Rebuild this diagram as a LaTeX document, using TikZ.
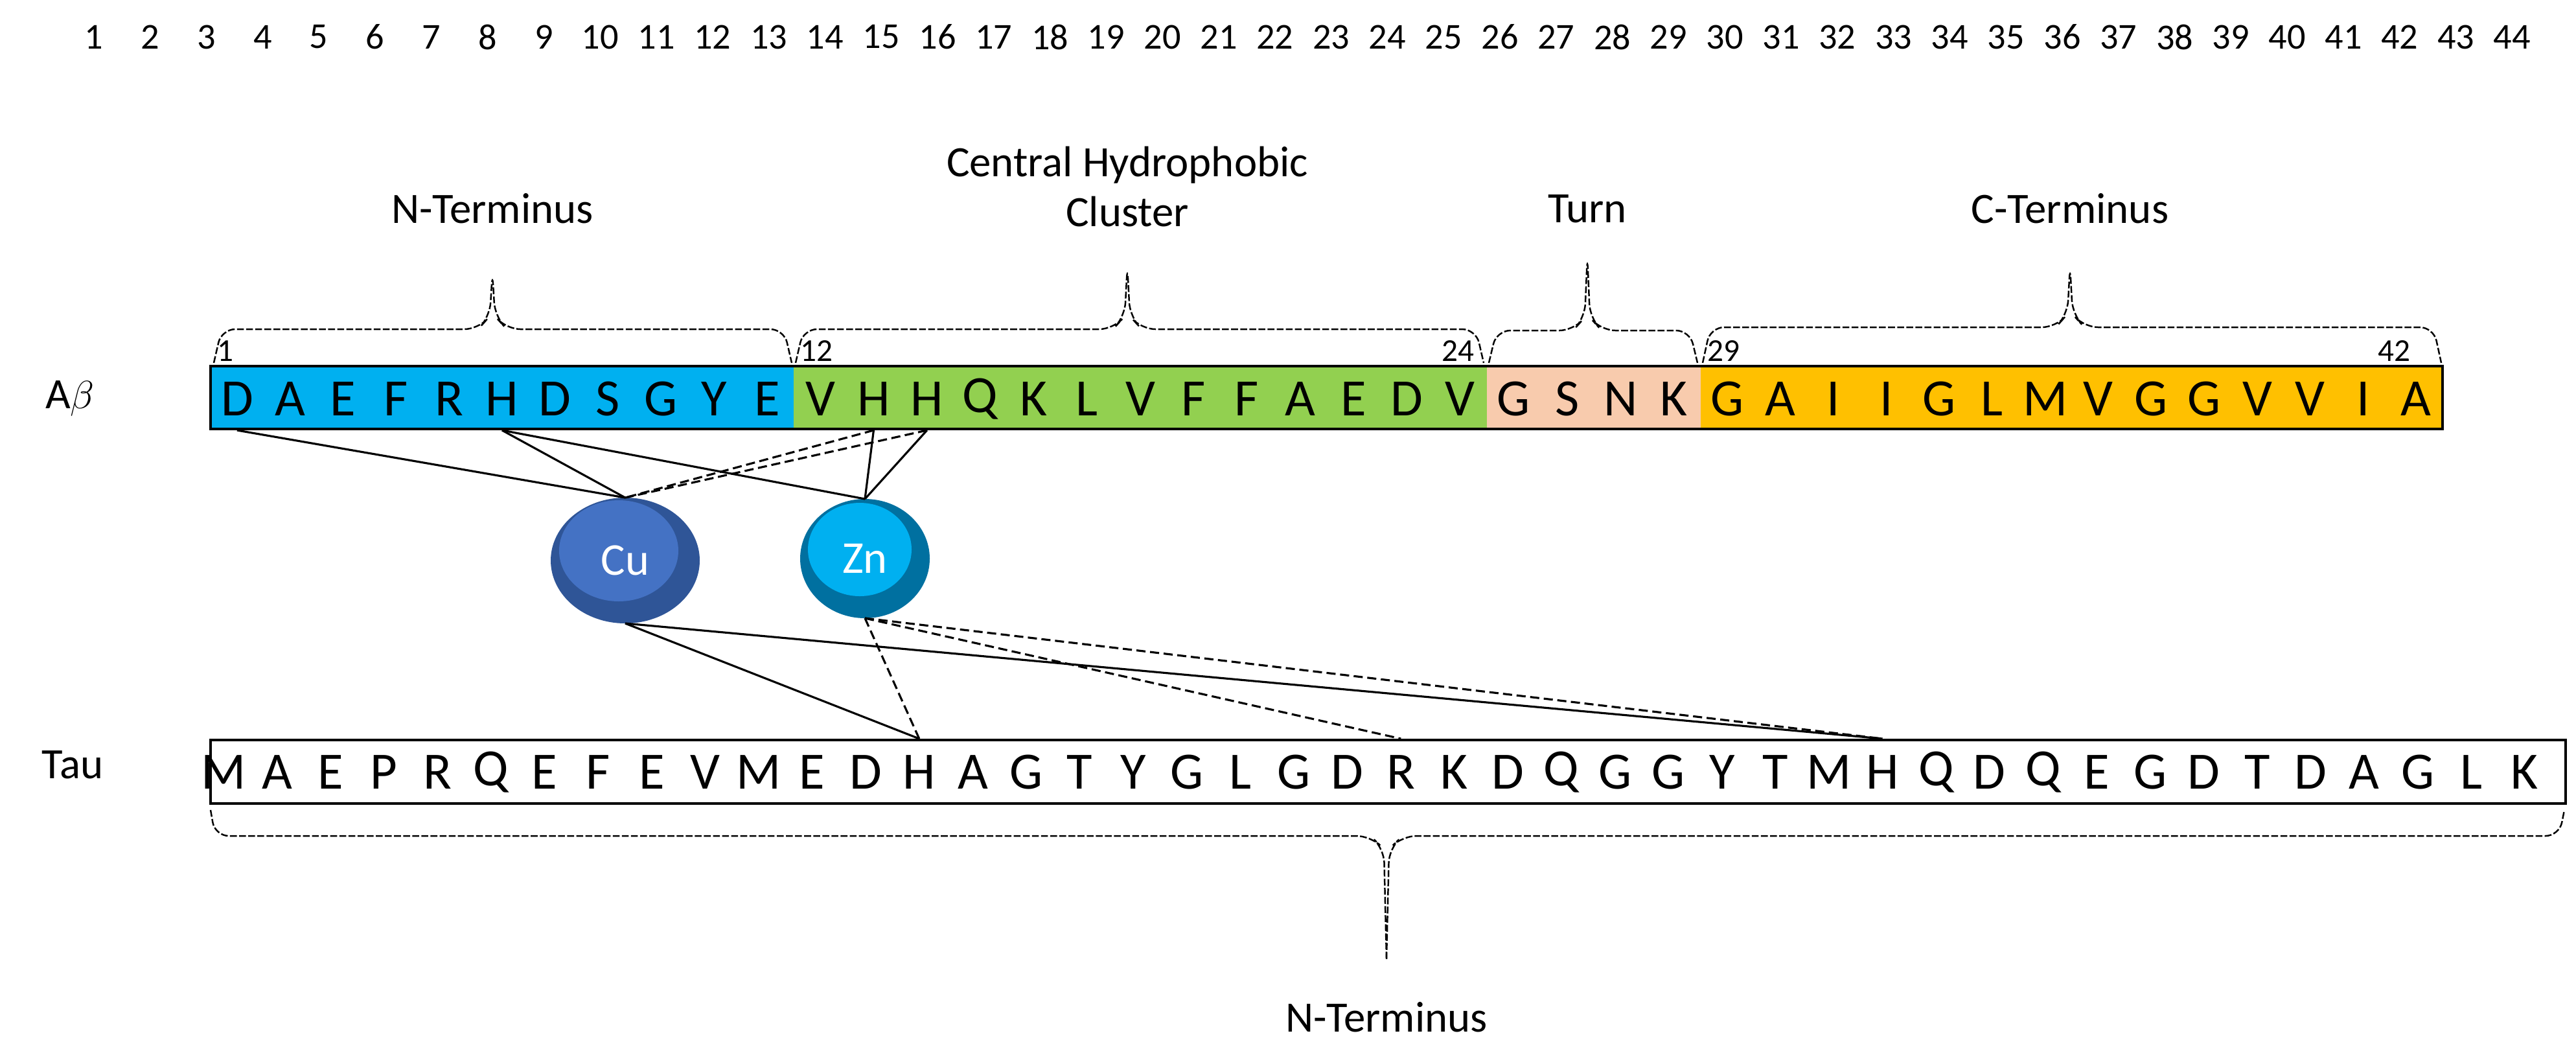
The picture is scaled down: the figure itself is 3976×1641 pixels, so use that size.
\documentclass[tikz,border=0pt]{standalone}
\usepackage{fontspec}
\setmainfont{Carlito}
\begin{document}
\begin{tikzpicture}[x=0.01cm,y=-0.01cm,
  seq/.style={font=\fontsize{23}{23}\selectfont,inner sep=0pt,anchor=center},
  num/.style={font=\fontsize{16}{16}\selectfont,inner sep=0pt},
  small/.style={font=\fontsize{14}{14}\selectfont,inner sep=0pt,anchor=south west},
  lab/.style={font=\fontsize{19}{22}\selectfont,align=center,inner sep=0pt},
  brace/.style={dashed,dash pattern=on 3pt off 1pt,line width=0.7pt,rounded corners=6pt},
  bond/.style={line width=0.9pt},
  dbond/.style={line width=0.9pt,dashed,dash pattern=on 4pt off 2pt},
  ion/.style={font=\fontsize{20}{20}\selectfont,text=white,inner sep=0pt}]
\useasboundingbox (0,0) rectangle (3976,1641);
\definecolor{cblue}{RGB}{0,176,240}
\definecolor{cgreen}{RGB}{146,208,80}
\definecolor{cpeach}{RGB}{248,203,173}
\definecolor{corange}{RGB}{255,192,0}
\definecolor{cudark}{RGB}{47,85,151}
\definecolor{culight}{RGB}{68,114,196}
\definecolor{zndark}{RGB}{0,112,160}
\newcommand\mybrace[6]{\draw[brace] (#1,#6) -- (#1+12,#4) -- (#3-22,#4) -- (#3-4,#4-20) -- (#3,#5) -- (#3+4,#4-20) -- (#3+22,#4) -- (#2-12,#4) -- (#2,#6);}
% number row
\foreach \i in {1,...,44} \node[num] (n\i) at ({145+86.8*(\i-1)},57) {\i};
% labels
\node[lab] (abl) at (108,615) {A$\beta$};
\node[lab] (taul) at (112,1180) {Tau};
% A-beta bar
\fill[cblue] (325,565) rectangle (1225,662);
\fill[cgreen] (1225,565) rectangle (2295,662);
\fill[cpeach] (2295,565) rectangle (2625,662);
\fill[corange] (2625,565) rectangle (3770,662);
\draw[line width=1.3pt] (325,565) rectangle (3770,662);
\foreach \l [count=\i] in {D,A,E,F,R,H,D,S,G,Y,E} \node[seq] (a\i) at ({325+81.8*(\i-0.5)},616) {\l};
\foreach \l [count=\i] in {V,H,H,Q,K,L,V,F,F,A,E,D,V} {\pgfmathtruncatemacro\k{\i+11}\node[seq] (a\k) at ({1225+82.3*(\i-0.5)},616) {\l};}
\foreach \l [count=\i] in {G,S,N,K} {\pgfmathtruncatemacro\k{\i+24}\node[seq] (a\k) at ({2295+82.5*(\i-0.5)},616) {\l};}
\foreach \l [count=\i] in {G,A,I,I,G,L,M,V,G,G,V,V,I,A} {\pgfmathtruncatemacro\k{\i+28}\node[seq] (a\k) at ({2625+81.8*(\i-0.5)},616) {\l};}
% small numbers
\node[small] (s1) at (335,558) {1};
\node[small] (s12) at (1235,558) {12};
\node[small] (s24) at (2225,558) {24};
\node[small] (s29) at (2635,558) {29};
\node[small] (s42) at (3670,558) {42};
% braces and labels
\mybrace{330}{1222}{760}{508}{420}{560}
\mybrace{1228}{2290}{1740}{508}{410}{560}
\mybrace{2298}{2620}{2450}{510}{395}{560}
\mybrace{2628}{3768}{3195}{505}{410}{560}
\node[lab] (l1) at (760,322) {N-Terminus};
\node[lab] (l2) at (1740,288) {Central Hydrophobic\\Cluster};
\node[lab] (l3) at (2450,322) {Turn};
\node[lab] (l4) at (3195,322) {C-Terminus};
% tau bar
\draw[line width=1.3pt] (325,1142) rectangle (3960,1240);
\foreach \l [count=\i] in {M,A,E,P,R,Q,E,F,E,V,M,E,D,H,A,G,T,Y,G,L,G,D,R,K,D,Q,G,G,Y,T,M,H,Q,D,Q,E,G,D,T,D,A,G,L,K}
  \node[seq] (t\i) at ({345+82.6*(\i-1)},1192) {\l};
\draw[brace] (325,1250) -- (332,1290) -- (2115,1290) -- (2136,1310) -- (2140,1480);
\draw[brace] (2140,1480) -- (2144,1310) -- (2165,1290) -- (3950,1290) -- (3958,1250);
\node[lab] (l5) at (2140,1570) {N-Terminus};
% metal ions
\fill[cudark] (965,865) ellipse (115 and 97);
\fill[culight] (955,850) ellipse (92 and 78);
\node[ion] (cu) at (965,865) {Cu};
\fill[zndark] (1335,862) ellipse (100 and 92);
\fill[cblue] (1327,848) ellipse (80 and 72);
\node[ion] (zn) at (1335,862) {Zn};
\coordinate (cut) at (965,768);
\coordinate (cub) at (965,962);
\coordinate (znt) at (1335,770);
\coordinate (znb) at (1335,954);
% bonds A-beta
\draw[bond] (a1 |- 0,664) -- (cut);
\draw[bond] (a6 |- 0,664) -- (cut);
\draw[bond] (a6 |- 0,664) -- (znt);
\draw[bond] (a13 |- 0,664) -- (znt);
\draw[bond] (a14 |- 0,664) -- (znt);
\draw[dbond] (a13 |- 0,664) -- (cut);
\draw[dbond] (a14 |- 0,664) -- (cut);
% bonds tau
\draw[bond] (cub) -- (t14 |- 0,1140);
\draw[bond] (cub) -- (t32 |- 0,1140);
\draw[dbond] (znb) -- (t14 |- 0,1140);
\draw[dbond] (znb) -- (t23 |- 0,1140);
\draw[dbond] (znb) -- (t32 |- 0,1140);
\end{tikzpicture}
\end{document}
